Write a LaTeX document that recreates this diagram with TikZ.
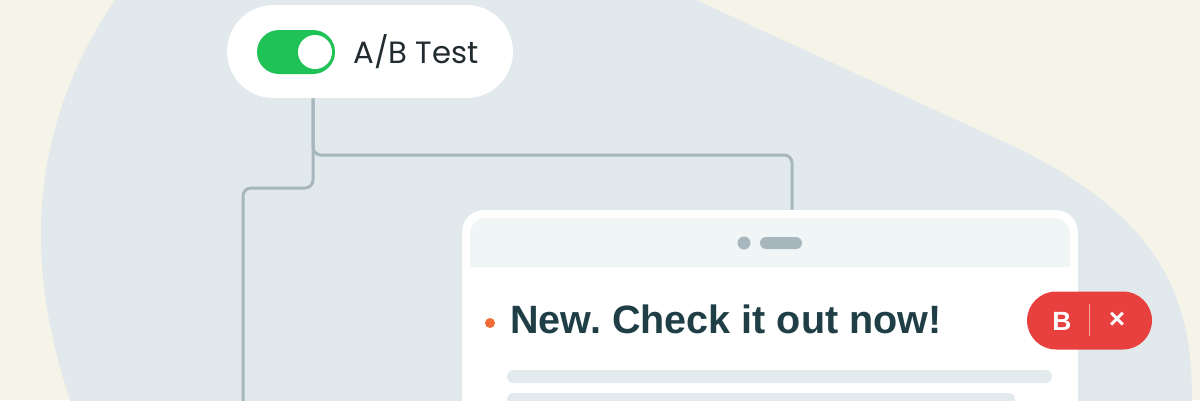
\documentclass[tikz,border=0pt]{standalone}
\usepackage{fontspec}
\setmainfont{Liberation Sans}
\newfontfamily\popfont{Poppins}
\definecolor{cream}{HTML}{F6F4E8}
\definecolor{blob}{HTML}{E1E9EC}
\definecolor{linec}{HTML}{A7B7BD}
\definecolor{tgreen}{HTML}{1FC257}
\definecolor{hdr}{HTML}{F0F5F6}
\definecolor{barc}{HTML}{E2EAED}
\definecolor{dotor}{HTML}{F26A35}
\definecolor{badgec}{HTML}{E8403F}
\definecolor{sepc}{HTML}{F5A3A3}
\definecolor{titlec}{HTML}{1F3E45}
\definecolor{abtext}{HTML}{222C30}
\frenchspacing
\begin{document}
\begin{tikzpicture}[x=0.02cm,y=-0.02cm,
  conn/.style={draw=linec, line width=0.06cm, rounded corners=0.16cm},
  panel/.style={fill=white, inner sep=0pt},
  bar/.style={fill=barc, rounded corners=0.13cm}]
\useasboundingbox (0,0) rectangle (1200,400);
\clip (0,0) rectangle (1200,400);
\fill[cream] (0,0) rectangle (1200,400);
\fill[blob] (115,0) -- (696,0) -- (1000,140) .. controls (1165,215) and (1192,300) .. (1192,400)
  -- (1192,420) -- (70,420) -- (70,400) .. controls (30,280) and (20,140) .. (115,0) -- cycle;

% A/B test pill
\node[panel, rounded corners=0.93cm, minimum width=5.72cm, minimum height=1.86cm] (ab) at (370,51.5) {};
\fill[tgreen, rounded corners=0.44cm] (257,30) rectangle (335,74);
\fill[white] (315,52) circle (0.34cm);
\node[anchor=base west, inner sep=0pt, font=\popfont\fontsize{17.5pt}{20pt}\selectfont, text=abtext] (abt) at (353,63) {A/B Test};

% card
\node[panel, rounded corners=0.44cm, minimum width=12.32cm, minimum height=4.8cm] (card) at (770,330) {};

% connectors
\coordinate (tx) at (313,0);
\coordinate (cx) at (792,0);
\coordinate (lx) at (243,0);
\coordinate (hy) at (0,155);
\coordinate (ly) at (0,188);
\coordinate (bl) at (243,420);
\draw[conn] (ab.south -| tx) -- (tx |- hy) -- (cx |- hy) -- (card.north -| cx);
\draw[conn] (ab.south -| tx) -- (tx |- ly) -- (lx |- ly) -- (bl);

% card header
\fill[hdr] (470,267) [rounded corners=0.32cm] -- (470,218) -- (1070,218) [sharp corners] -- (1070,267) -- cycle;
\fill[linec] (744,243) circle (0.13cm);
\fill[linec, rounded corners=0.12cm] (760,237) rectangle (802,249);

% title
\fill[dotor] (490,323) circle (0.1cm);
\node[anchor=base west, inner sep=0pt, font=\bfseries\fontsize{22.5pt}{26pt}\selectfont, text=titlec] (title) at (510,333) {New. Check it out now!};

% bars
\fill[bar] (507,370) rectangle (1052,383);
\fill[bar] (507,393) rectangle (1015,406);

% badge
\node[fill=badgec, inner sep=0pt, rounded corners=0.58cm, minimum width=2.5cm, minimum height=1.16cm] (badge) at (1089.5,320.5) {};
\node[text=white, inner sep=0pt, font=\bfseries\fontsize{15pt}{18pt}\selectfont] (bb) at (1062,321) {B};
\draw[sepc, line width=0.03cm] (badge.center |- 0,304) -- (badge.center |- 0,336);
\node[text=white, inner sep=0pt, font=\bfseries\fontsize{16pt}{18pt}\selectfont] (bx) at (1117,320) {×};
\end{tikzpicture}
\end{document}
